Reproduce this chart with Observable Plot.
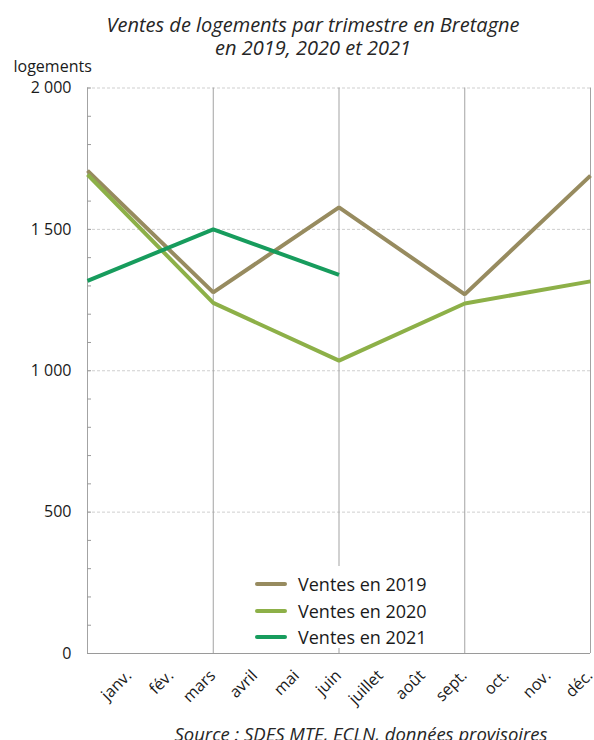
<!DOCTYPE html>
<html lang="fr">
<head>
<meta charset="utf-8">
<script src="https://cdn.jsdelivr.net/npm/d3@7"></script>
<script src="https://cdn.jsdelivr.net/npm/@observablehq/plot@0.6"></script>
<style>
  body { margin: 0; background: #fff; }
  #chart { position: relative; width: 594px; height: 740px; overflow: hidden; font-family: "Open Sans", sans-serif; color: #1a1a1a; }
  .title { position: absolute; left: 32px; width: 562px; height: 23px; text-align: center; white-space: nowrap;
           font-style: italic; font-size: 20px; line-height: 23px; color: #262626; }
  #title1 { top: 12.74px; }
  #title2 { top: 35.74px; }
  #plot { position: absolute; top: 40px; left: 0; }
  #legend { position: absolute; left: 245px; top: 566px; width: 210px; height: 82px; background: #fff;
            box-sizing: border-box; padding-top: 4.75px; }
  .row { display: flex; align-items: center; height: 26.5px; }
  .swatch { width: 32px; height: 4px; border-radius: 2px; margin-left: 10px; margin-right: 11px; }
  .row span { font-size: 18px; color: #1a1a1a; }
  #source { position: absolute; top: 724.3px; left: 111px; width: 500px; text-align: center; white-space: nowrap;
            font-style: italic; font-size: 18.5px; line-height: 20px; color: #262626; }
</style>
</head>
<body>
<div id="chart">
  <div class="title" id="title1">Ventes de logements par trimestre en Bretagne</div>
  <div class="title" id="title2">en 2019, 2020 et 2021</div>
  <div id="plot"></div>
  <div id="legend"></div>
  <div id="source">Source : SDES MTE, ECLN, données provisoires</div>
</div>
<script>
// Month labels along the horizontal axis
const months = ["janv.", "fév.", "mars", "avril", "mai", "juin", "juillet", "août", "sept.", "oct.", "nov.", "déc."];
// Position of each quarterly figure, in months from the start of the year
const quarterPos = [0, 3, 6, 9, 12];
// Quarterly sales (logements)
const ventes2019 = [1708, 1277, 1578, 1270, 1690];
const ventes2020 = [1694, 1240, 1036, 1238, 1316];
const ventes2021 = [1318, 1500, 1339];
const seriesNames = ["Ventes en 2019", "Ventes en 2020", "Ventes en 2021"];
const seriesColors = ["#978B5F", "#8DB048", "#179C5D"];
// Vertical axis ticks
const yTicks = [0, 500, 1000, 1500, 2000];
const yMinorTicks = d3.range(0, 2001, 100);

const rows = [ventes2019, ventes2020, ventes2021].flatMap((values, s) =>
  values.map((v, i) => ({serie: seriesNames[s], pos: quarterPos[i], value: v}))
);

const fr = d3.formatLocale({decimal: ",", thousands: "\u00a0", grouping: [3], currency: ["", "\u00a0€"]});
const fmt = fr.format(",d");

const chart = Plot.plot({
  width: 594,
  height: 700,
  marginLeft: 87,
  marginRight: 4,
  marginTop: 47.5,
  marginBottom: 87,
  style: {fontFamily: "'Open Sans', sans-serif", background: "transparent", color: "#1a1a1a"},
  x: {domain: [0, 12], axis: null},
  y: {domain: [0, 2000], axis: null, label: null},
  color: {domain: seriesNames, range: seriesColors},
  marks: [
    // dashed horizontal gridlines
    Plot.ruleY(yTicks.filter(d => d > 0), {stroke: "#cfcfcf", strokeDasharray: "3,2"}),
    // quarter separators and frame sides
    Plot.ruleX(quarterPos, {stroke: "#a3a3a3"}),
    Plot.ruleY([0], {stroke: "#9a9a9a"}),
    // minor ticks inside the left axis
    Plot.axisY({ticks: yMinorTicks, tickSize: 4, dx: 4, fill: "none", stroke: "#9a9a9a", label: null}),
    // tick labels
    Plot.axisY({ticks: yTicks, tickSize: 0, tickPadding: 16, tickFormat: fmt, fontSize: 16, label: null}),
    Plot.text(["logements"], {
      frameAnchor: "top-left", textAnchor: "start", lineAnchor: "bottom",
      dx: -74, dy: -15.8, fontSize: 16
    }),
    Plot.text(months, {
      x: (d, i) => i + 0.5, text: d => d, frameAnchor: "bottom",
      rotate: -45, textAnchor: "end", lineAnchor: "top", dx: 16, dy: 15, fontSize: 16
    }),
    Plot.line(rows, {
      x: "pos", y: "value", z: "serie", stroke: "serie",
      strokeWidth: 4, strokeLinejoin: "miter", strokeLinecap: "butt"
    })
  ]
});
document.getElementById("plot").appendChild(chart);

// Legend
const legend = document.getElementById("legend");
seriesNames.forEach((name, i) => {
  const row = document.createElement("div");
  row.className = "row";
  const sw = document.createElement("div");
  sw.className = "swatch";
  sw.style.background = seriesColors[i];
  const label = document.createElement("span");
  label.textContent = name;
  row.append(sw, label);
  legend.appendChild(row);
});
</script>
</body>
</html>
